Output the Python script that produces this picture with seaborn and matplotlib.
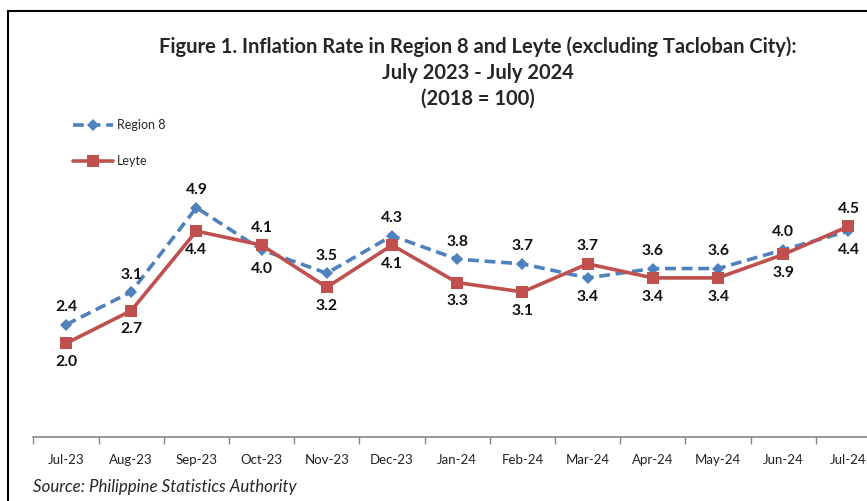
import matplotlib
matplotlib.use("Agg")
import matplotlib.pyplot as plt
import seaborn as sns
import pandas as pd
from matplotlib.patches import Rectangle
from matplotlib.lines import Line2D

months = ["Jul-23", "Aug-23", "Sep-23", "Oct-23", "Nov-23", "Dec-23", "Jan-24",
          "Feb-24", "Mar-24", "Apr-24", "May-24", "Jun-24", "Jul-24"]
region8 = [2.4, 3.1, 4.9, 4.0, 3.5, 4.3, 3.8, 3.7, 3.4, 3.6, 3.6, 4.0, 4.4]
leyte = [2.0, 2.7, 4.4, 4.1, 3.2, 4.1, 3.3, 3.1, 3.7, 3.4, 3.4, 3.9, 4.5]

sns.set_theme(style="white")
plt.rcParams['font.family'] = ['Lato', 'DejaVu Sans']

blue = "#4F81BD"
red = "#C0504D"

fig = plt.figure(figsize=(8.67, 5.01), dpi=100)
ax = fig.add_axes([0.0385, 0.1277, 0.9777, 0.5605])

idx = list(range(len(months)))
df = pd.DataFrame({"i": idx, "Region 8": region8, "Leyte": leyte})

sns.lineplot(data=df, x="i", y="Region 8", ax=ax, color=blue, lw=2.6,
             linestyle=(0, (3, 1.6)), marker="D", markersize=6, markeredgewidth=0)
sns.lineplot(data=df, x="i", y="Leyte", ax=ax, color=red, lw=2.6,
             marker="s", markersize=9, markeredgewidth=0)

for i, (a, b) in enumerate(zip(region8, leyte)):
    a_above = a >= b
    ax.annotate(f"{a:.1f}", (i, a), xytext=(0, 12.5 if a_above else -13.5),
                textcoords="offset points", ha="center", va="center",
                fontsize=11.3, fontweight="bold", color="#111111")
    ax.annotate(f"{b:.1f}", (i, b), xytext=(0, -13.5 if a_above else 12.5),
                textcoords="offset points", ha="center", va="center",
                fontsize=11.3, fontweight="bold", color="#111111")

ax.set_xlim(-0.5, 12.5)
ax.set_ylim(0, 6)
ax.set_xticks(idx)
ax.set_xticklabels(months, fontsize=9.5, color="#222222")
ax.set_xticks([i - 0.5 for i in range(14)], minor=True)
ax.tick_params(axis="x", which="major", length=0, pad=12)
ax.tick_params(axis="x", which="minor", length=5, width=1, color="#868686", direction="out", bottom=True)
ax.set_yticks([])
ax.set_xlabel("")
ax.set_ylabel("")
for s in ["top", "right", "left"]:
    ax.spines[s].set_visible(False)
ax.spines["bottom"].set_color("#868686")
ax.spines["bottom"].set_linewidth(1.2)

# frame of the original figure (cropped)
fig.patches.append(Rectangle((8 / 867, -0.1), 1.2, (501 - 11) / 501 + 0.1, transform=fig.transFigure,
                             fill=False, edgecolor="black", linewidth=1.5))

fig.text(0.551, 1 - 47 / 501, "Figure 1. Inflation Rate in Region 8 and Leyte (excluding Tacloban City):",
         ha="center", va="center", fontsize=14.5, fontweight="bold")
fig.text(0.551, 1 - 73 / 501, "July 2023 - July 2024", ha="center", va="center",
         fontsize=14.5, fontweight="bold")
fig.text(0.551, 1 - 99 / 501, "(2018 = 100)", ha="center", va="center",
         fontsize=14.5, fontweight="bold")

handles = [Line2D([], [], color=blue, lw=2.6, linestyle=(0, (3, 1.6)), marker="D", markersize=6, markeredgewidth=0),
           Line2D([], [], color=red, lw=2.6, marker="s", markersize=9, markeredgewidth=0)]
fig.legend(handles, ["Region 8", "Leyte"], loc="upper left", bbox_to_anchor=(62 / 867, 1 - 108 / 501),
           frameon=False, fontsize=9, labelspacing=1.9, handlelength=3.2, handletextpad=0.3)

fig.text(33 / 867, 1 - 487 / 501, "Source: Philippine Statistics Authority", ha="left", va="center",
         fontsize=12.2, style="italic")

fig.savefig("out.png", dpi=100)
